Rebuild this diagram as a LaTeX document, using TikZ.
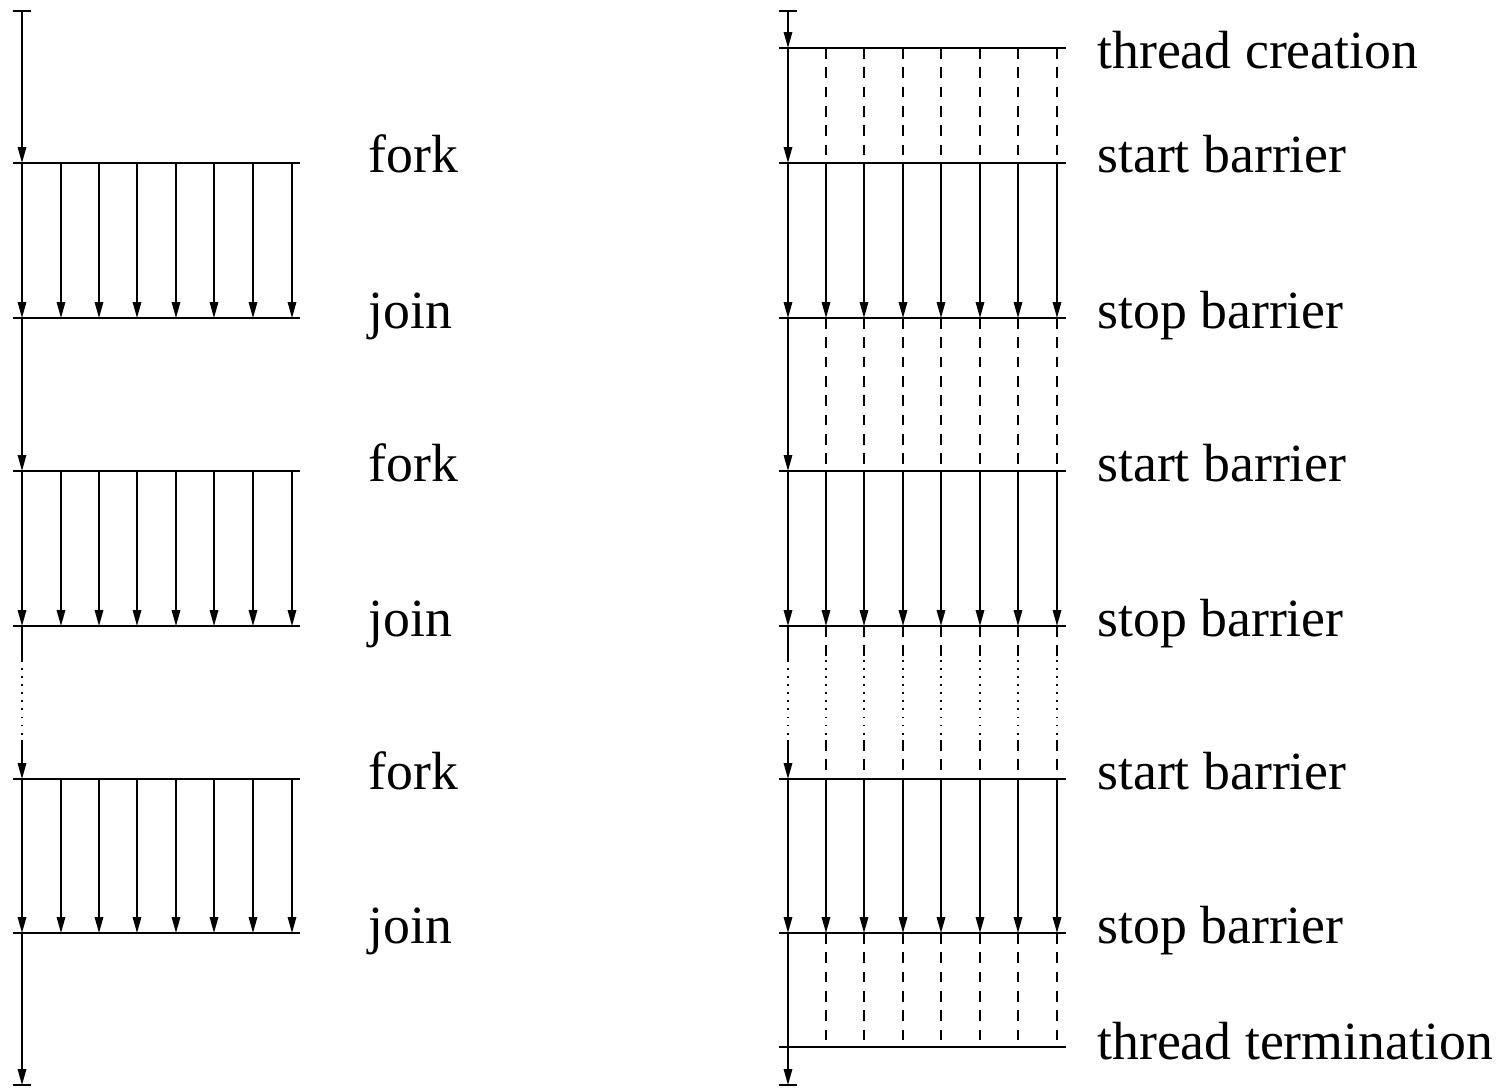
\documentclass[tikz,border=0pt]{standalone}
\usepackage{fontspec}
\setmainfont{Liberation Serif}
\usetikzlibrary{arrows.meta,calc}

\begin{document}
\begin{tikzpicture}[
    x=0.02cm, y=-0.02cm,
    level/.style={line width=1.2pt},
    main/.style={line width=0.9pt, -{Triangle[length=0.32cm, width=0.17cm]}},
    flow/.style={line width=0.9pt, -{Triangle[length=0.32cm, width=0.17cm]}},
    idle/.style={line width=0.8pt, dash pattern=on 6pt off 5pt},
    gap/.style={line width=1pt, dash pattern=on 1pt off 3.6pt},
    tickbar/.style={line width=1.2pt},
    lbl/.style={anchor=base west, inner sep=0pt, font=\fontsize{30.6}{36}\selectfont}
]
    \useasboundingbox (0,0) rectangle (1501,1088);

    % ---- fork / join model (left) ----
    \coordinate (ltop) at (22,11);
    \coordinate (lbot) at (22,1085);
    \foreach \y [count=\i] in {163,318,471,626,779,933} {
        \coordinate (ll\i) at (13,\y);
        \coordinate (lr\i) at (300,\y);
        \coordinate (lm\i) at (22,\y);
    }
    \foreach \x [count=\k] in {61,99,137,176,214,253,292}
        \coordinate (lc\k) at (\x,0);
    \coordinate (lg1) at (22,660);
    \coordinate (lg2) at (22,740);

    \foreach \i in {1,...,6}
        \draw [level] (ll\i) -- (lr\i);

    \draw [tickbar] ([xshift=-5.4pt]ltop) -- ([xshift=5.4pt]ltop);
    \draw [tickbar] ([xshift=-5.4pt]lbot) -- ([xshift=5.4pt]lbot);
    \draw [main] (ltop) -- (lm1);
    \draw [main] (lm1) -- (lm2);
    \draw [main] (lm2) -- (lm3);
    \draw [main] (lm3) -- (lm4);
    \draw [line width=0.9pt] (lm4) -- (lg1);
    \draw [gap] (lg1) -- (lg2);
    \draw [main] (lg2) -- (lm5);
    \draw [main] (lm5) -- (lm6);
    \draw [main] (lm6) -- (lbot);

    \foreach \a/\b in {1/2,3/4,5/6}
        \foreach \k in {1,...,7}
            \draw [flow] (ll\a -| lc\k) -- (ll\b -| lc\k);

    \node [lbl] (fork1) at (368,173) {fork};
    \node [lbl] (join1) at (368,328) {join};
    \node [lbl] (fork2) at (368,481) {fork};
    \node [lbl] (join2) at (368,636) {join};
    \node [lbl] (fork3) at (368,789) {fork};
    \node [lbl] (join3) at (368,943) {join};

    % ---- thread pool with barriers (right) ----
    \coordinate (rtop) at (788,11);
    \coordinate (rbot) at (788,1085);
    \foreach \y [count=\i] in {48,163,318,471,626,779,933,1047} {
        \coordinate (rl\i) at (779,\y);
        \coordinate (rr\i) at (1066,\y);
        \coordinate (rm\i) at (788,\y);
    }
    \foreach \x [count=\k] in {826,864,903,941,980,1018,1057}
        \coordinate (rc\k) at (\x,0);
    \coordinate (rg1) at (788,660);
    \coordinate (rg2) at (788,740);

    \foreach \i in {1,...,8}
        \draw [level] (rl\i) -- (rr\i);

    \draw [tickbar] ([xshift=-5.4pt]rtop) -- ([xshift=5.4pt]rtop);
    \draw [tickbar] ([xshift=-5.4pt]rbot) -- ([xshift=5.4pt]rbot);
    \draw [main] (rtop) -- (rm1);
    \draw [main] (rm1) -- (rm2);
    \draw [main] (rm2) -- (rm3);
    \draw [main] (rm3) -- (rm4);
    \draw [main] (rm4) -- (rm5);
    \draw [line width=0.9pt] (rm5) -- (rg1);
    \draw [gap] (rg1) -- (rg2);
    \draw [main] (rg2) -- (rm6);
    \draw [main] (rm6) -- (rm7);
    \draw [main] (rm7) -- (rbot);

    \foreach \a/\b in {2/3,4/5,6/7}
        \foreach \k in {1,...,7}
            \draw [flow] (rl\a -| rc\k) -- (rl\b -| rc\k);
    \foreach \a/\b in {1/2,3/4,7/8}
        \foreach \k in {1,...,7}
            \draw [idle] (rl\a -| rc\k) -- (rl\b -| rc\k);
    \foreach \k in {1,...,7} {
        \draw [idle] (rl5 -| rc\k) -- (rg1 -| rc\k);
        \draw [gap] (rg1 -| rc\k) -- (rg2 -| rc\k);
        \draw [idle] (rg2 -| rc\k) -- (rl6 -| rc\k);
    }

    \node [lbl] (create) at (1097,69) {thread creation};
    \node [lbl] (start1) at (1097,173) {start barrier};
    \node [lbl] (stop1) at (1097,328) {stop barrier};
    \node [lbl] (start2) at (1097,481) {start barrier};
    \node [lbl] (stop2) at (1097,636) {stop barrier};
    \node [lbl] (start3) at (1097,789) {start barrier};
    \node [lbl] (stop3) at (1097,943) {stop barrier};
    \node [lbl] (term) at (1097,1059) {thread termination};
\end{tikzpicture}
\end{document}
